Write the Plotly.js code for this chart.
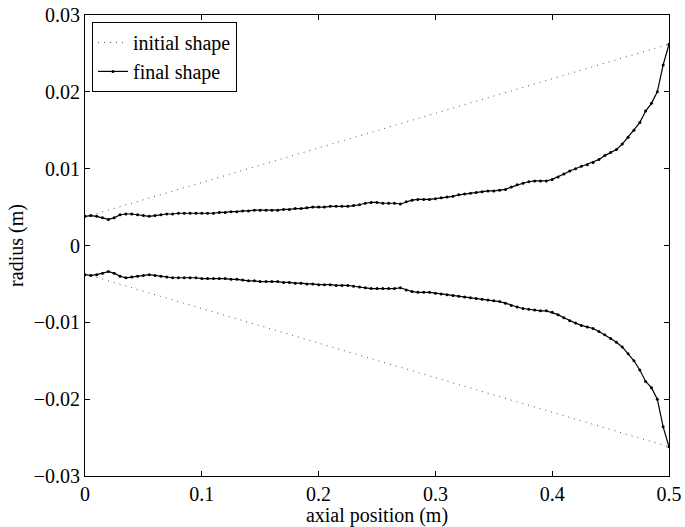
<!DOCTYPE html>
<html>
<head>
<meta charset="utf-8">
<script src="https://cdn.plot.ly/plotly-3.0.1.min.js"></script>
<style>html,body{margin:0;padding:0;background:#fff;}#chart{width:685px;height:527px;}</style>
</head>
<body>
<div id="chart"></div>
<script>
const xInitial = [0, 0.5];
const initialUpper = [0.0037, 0.0262];
const initialLower = [-0.0037, -0.0262];

const xFinal = [];
for (let i = 0; i <= 100; i++) xFinal.push(i * 0.005);

const finalUpper = [
 0.0038,0.0039,0.0038,0.0036,0.0034,0.0036,0.0040,0.0041,0.0041,0.0040,
 0.0039,0.0038,0.0039,0.0040,0.0041,0.0041,0.0042,0.0042,0.0042,0.0042,
 0.0042,0.0042,0.0042,0.0043,0.0043,0.0044,0.0044,0.0045,0.0045,0.0046,
 0.0046,0.0046,0.0046,0.0046,0.0047,0.0047,0.0048,0.0048,0.0049,0.0050,
 0.0050,0.0050,0.0051,0.0051,0.0051,0.0051,0.0052,0.0053,0.0055,0.0056,
 0.0056,0.0055,0.0055,0.0055,0.0054,0.0057,0.0059,0.0060,0.0060,0.0060,
 0.0061,0.0062,0.0063,0.0064,0.0066,0.0067,0.0068,0.0069,0.0070,0.0071,
 0.0071,0.0072,0.0073,0.0076,0.0079,0.0081,0.0083,0.0084,0.0084,0.0084,
 0.0086,0.0089,0.0093,0.0097,0.0100,0.0103,0.0105,0.0108,0.0112,0.0117,
 0.0121,0.0125,0.0132,0.0141,0.0150,0.0160,0.0175,0.0185,0.0200,0.0235,
 0.0262
];
const finalLower = [
 -0.0038,-0.0039,-0.0038,-0.0036,-0.0034,-0.0036,-0.0040,-0.0042,-0.0041,-0.0040,
 -0.0039,-0.0038,-0.0039,-0.0040,-0.0041,-0.0042,-0.0042,-0.0042,-0.0042,-0.0042,
 -0.0043,-0.0043,-0.0043,-0.0043,-0.0043,-0.0044,-0.0044,-0.0045,-0.0046,-0.0046,
 -0.0047,-0.0047,-0.0047,-0.0047,-0.0048,-0.0048,-0.0049,-0.0049,-0.0050,-0.0050,
 -0.0051,-0.0051,-0.0051,-0.0052,-0.0052,-0.0052,-0.0053,-0.0054,-0.0055,-0.0056,
 -0.0056,-0.0056,-0.0056,-0.0056,-0.0055,-0.0058,-0.0060,-0.0061,-0.0061,-0.0061,
 -0.0062,-0.0063,-0.0064,-0.0065,-0.0066,-0.0067,-0.0068,-0.0069,-0.0070,-0.0071,
 -0.0072,-0.0073,-0.0075,-0.0078,-0.0080,-0.0082,-0.0083,-0.0084,-0.0085,-0.0085,
 -0.0087,-0.0090,-0.0094,-0.0098,-0.0101,-0.0104,-0.0106,-0.0108,-0.0112,-0.0116,
 -0.0121,-0.0126,-0.0132,-0.0141,-0.0150,-0.0162,-0.0177,-0.0185,-0.0200,-0.0236,
 -0.0262
];

const xTicks = [0, 0.1, 0.2, 0.3, 0.4, 0.5];
const yTicks = [-0.03, -0.02, -0.01, 0, 0.01, 0.02, 0.03];

const font = {family: 'Liberation Serif, Times New Roman, serif', size: 20, color: '#000'};

const dotted = {color: '#555', width: 1, dash: '1px,5px'};
const solid = {color: '#000', width: 1.2};
const mk = {size: 3, color: '#000'};

const traces = [
  {x: xInitial, y: initialUpper, mode: 'lines', line: dotted, name: 'initial shape', legendgroup: 'i'},
  {x: xInitial, y: initialLower, mode: 'lines', line: dotted, name: 'initial shape', legendgroup: 'i', showlegend: false},
  {x: xFinal, y: finalUpper, mode: 'lines+markers', line: solid, marker: mk, name: 'final shape', legendgroup: 'f'},
  {x: xFinal, y: finalLower, mode: 'lines+markers', line: solid, marker: mk, name: 'final shape', legendgroup: 'f', showlegend: false}
];

const axisCommon = {
  showgrid: false, zeroline: false, showline: true, linecolor: '#000', linewidth: 1,
  mirror: 'ticks', ticks: 'inside', ticklen: 5, tickcolor: '#000', tickwidth: 1,
  tickfont: font
};

const layout = {
  width: 685, height: 527,
  margin: {l: 85, r: 16, t: 15, b: 51},
  paper_bgcolor: '#fff', plot_bgcolor: '#fff',
  font: font,
  showlegend: true,
  legend: {x: 0.012, y: 0.985, xanchor: 'left', yanchor: 'top', bgcolor: '#fff',
           bordercolor: '#000', borderwidth: 1, font: font, tracegroupgap: 0, itemwidth: 30},
  xaxis: Object.assign({}, axisCommon, {
    range: [0, 0.5], tickvals: xTicks, ticktext: xTicks.map(String),
    title: {text: 'axial position (m)', font: font, standoff: 0}
  }),
  yaxis: Object.assign({}, axisCommon, {
    range: [-0.03, 0.03], tickvals: yTicks,
    ticktext: yTicks.map(v => v < 0 ? '\u2212' + String(-v) : String(v)),
    title: {text: 'radius (m)', font: font, standoff: 4}
  })
};

Plotly.newPlot('chart', traces, layout, {staticPlot: true, displayModeBar: false});
</script>
</body>
</html>
